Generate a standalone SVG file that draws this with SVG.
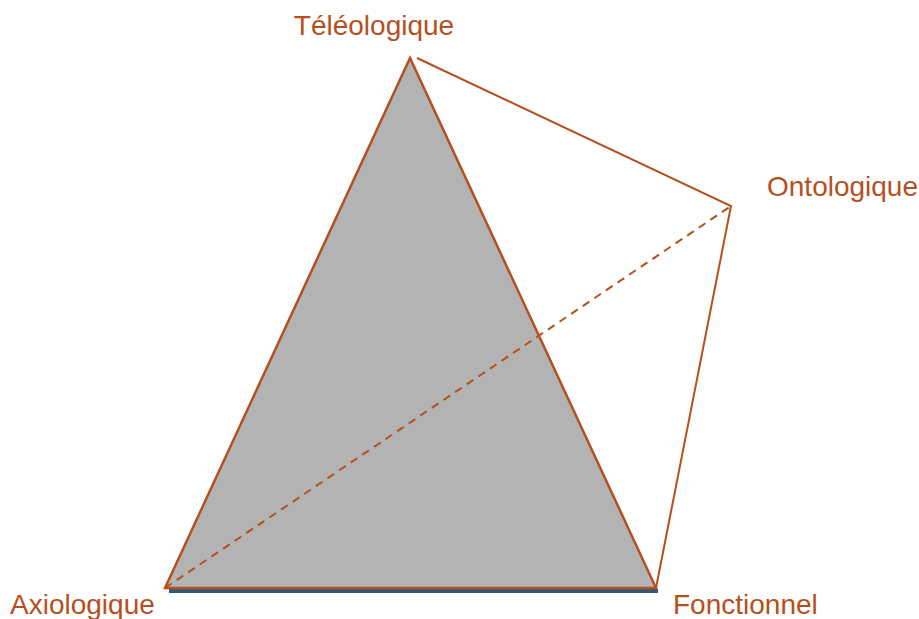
<svg xmlns="http://www.w3.org/2000/svg" width="919" height="619" viewBox="0 0 919 619">
<style>
.lbl{font-family:"Liberation Sans",Arial,sans-serif;font-size:28px;fill:#B5501E}
.ln{stroke:#B5501E;stroke-width:2;fill:none}
</style>
<rect width="919" height="619" fill="#fff"/>
<g id="connectors">
<line x1="169" y1="591" x2="658" y2="591" stroke="#2E5A78" stroke-width="4"/>
<polygon id="triangle" points="410,58 165,588 656,588" fill="#B3B3B3" stroke="#B5501E" stroke-width="2.5" stroke-linejoin="miter"/>
<polyline class="ln" points="417,58 731,206 656,588"/>
<line class="ln" x1="165" y1="588" x2="731" y2="206" stroke-dasharray="8,6"/>
</g>
<g id="teleologique"><text class="lbl" x="374" y="35" text-anchor="middle">Téléologique</text></g>
<g id="ontologique"><text class="lbl" x="767" y="196">Ontologique</text></g>
<g id="axiologique"><text class="lbl" x="10" y="614">Axiologique</text></g>
<g id="fonctionnel"><text class="lbl" x="673" y="614">Fonctionnel</text></g>
</svg>
